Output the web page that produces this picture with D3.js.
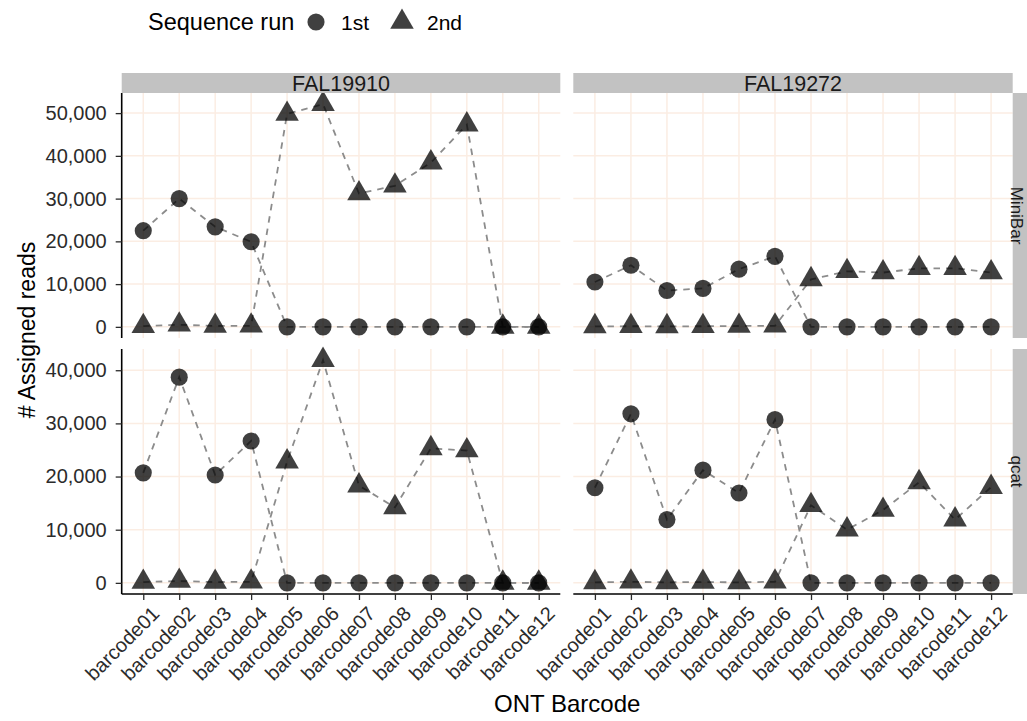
<!DOCTYPE html>
<html>
<head>
<meta charset="utf-8">
<script src="https://cdn.jsdelivr.net/npm/d3@7"></script>
<style>
  html, body { margin: 0; padding: 0; background: #fff; }
  svg { display: block; font-family: "Liberation Sans", Arial, sans-serif; }
</style>
</head>
<body>
<svg id="chart" width="1027" height="721"></svg>
<script>
// ---------------- data ----------------
const barcodes = ["barcode01","barcode02","barcode03","barcode04","barcode05","barcode06",
                  "barcode07","barcode08","barcode09","barcode10","barcode11","barcode12"];
const flowcells = ["FAL19910", "FAL19272"];
const tools = ["MiniBar", "qcat"];
const runs = ["1st", "2nd"];

// MiniBar
const miniBar_FAL19910_1st = [22500, 30000, 23400, 19900, 0, 0, 0, 0, 0, 0, 0, 0];
const miniBar_FAL19910_2nd = [150, 500, 200, 250, 49800, 52100, 31200, 33000, 38400, 47300, 0, 0];
const miniBar_FAL19272_1st = [10500, 14400, 8500, 9000, 13500, 16500, 0, 0, 0, 0, 0, 0];
const miniBar_FAL19272_2nd = [100, 150, 100, 150, 200, 250, 11100, 13000, 12700, 13700, 13700, 12700];
// qcat
const qcat_FAL19910_1st = [20700, 38700, 20300, 26700, 0, 0, 0, 0, 0, 0, 0, 0];
const qcat_FAL19910_2nd = [150, 350, 150, 200, 22800, 41900, 18300, 14200, 25300, 24900, 0, 0];
const qcat_FAL19272_1st = [17900, 31800, 11900, 21200, 16900, 30700, 0, 0, 0, 0, 0, 0];
const qcat_FAL19272_2nd = [100, 200, 100, 150, 100, 200, 14600, 10000, 13700, 18900, 11900, 18000];

const yTicksMiniBar = [0, 10000, 20000, 30000, 40000, 50000];
const yTicksQcat = [0, 10000, 20000, 30000, 40000];

const seriesTable = {
  "MiniBar": {
    "FAL19910": { "1st": miniBar_FAL19910_1st, "2nd": miniBar_FAL19910_2nd },
    "FAL19272": { "1st": miniBar_FAL19272_1st, "2nd": miniBar_FAL19272_2nd }
  },
  "qcat": {
    "FAL19910": { "1st": qcat_FAL19910_1st, "2nd": qcat_FAL19910_2nd },
    "FAL19272": { "1st": qcat_FAL19272_1st, "2nd": qcat_FAL19272_2nd }
  }
};
const yTicksByTool = { "MiniBar": yTicksMiniBar, "qcat": yTicksQcat };

// ---------------- layout ----------------
const svg = d3.select("#chart");
const colX = [[121.7, 560.3], [573.3, 1012.7]];
const rowY = [[93, 338], [349, 594]];
const stripH = 20;
const stripW = 21;

const pointColor = "#000";
const pointAlpha = 0.75;
const lineColor = "#8c8c8c";
const gridColor = "#fbede3";
const textColor = "#2b2b2b";
const fmt = d3.format(",");

const shapeFor = {
  "1st": d3.symbol().type(d3.symbolCircle).size(230),
  "2nd": d3.symbol().type(d3.symbolTriangle).size(240)
};

tools.forEach((tool, ri) => {
  // free y per row
  const allVals = [];
  flowcells.forEach(fc => runs.forEach(r => allVals.push(...seriesTable[tool][fc][r])));
  const lo = d3.min(allVals), hi = d3.max(allVals);
  const pad = (hi - lo) * 0.05;
  const [y0, y1] = rowY[ri];
  const y = d3.scaleLinear().domain([lo - pad, hi + pad]).range([y1, y0]);
  const ticks = yTicksByTool[tool];

  flowcells.forEach((fc, ci) => {
    const [x0, x1] = colX[ci];
    const x = d3.scalePoint().domain(barcodes).range([x0, x1]).padding(0.6);
    const g = svg.append("g");

    // grid
    g.selectAll(".hg").data(ticks).join("line")
      .attr("x1", x0).attr("x2", x1)
      .attr("y1", d => y(d)).attr("y2", d => y(d))
      .attr("stroke", gridColor).attr("stroke-width", 1.5);
    g.selectAll(".vg").data(barcodes).join("line")
      .attr("x1", d => x(d)).attr("x2", d => x(d))
      .attr("y1", y0).attr("y2", y1)
      .attr("stroke", gridColor).attr("stroke-width", 1.5);

    // lines
    runs.forEach(r => {
      const vals = seriesTable[tool][fc][r];
      const line = d3.line().x((d, i) => x(barcodes[i])).y(d => y(d));
      g.append("path").datum(vals)
        .attr("d", line)
        .attr("fill", "none")
        .attr("stroke", lineColor)
        .attr("stroke-width", 1.8)
        .attr("stroke-dasharray", "6.5,6");
    });
    // points
    runs.forEach(r => {
      const vals = seriesTable[tool][fc][r];
      g.selectAll(null).data(vals).join("path")
        .attr("d", shapeFor[r])
        .attr("transform", (d, i) => `translate(${x(barcodes[i])},${y(d)})`)
        .attr("fill", pointColor)
        .attr("fill-opacity", pointAlpha);
    });

    // top strips
    if (ri === 0) {
      svg.append("rect").attr("x", x0).attr("y", y0 - stripH)
        .attr("width", x1 - x0).attr("height", stripH).attr("fill", "#c2c2c2");
      svg.append("text").attr("x", (x0 + x1) / 2).attr("y", y0 - stripH / 2)
        .attr("dy", "0.36em").attr("text-anchor", "middle")
        .attr("font-size", 21.5).attr("fill", "#1a1a1a").text(fc);
    }
    // right strips
    if (ci === 1) {
      svg.append("rect").attr("x", x1).attr("y", y0)
        .attr("width", stripW).attr("height", y1 - y0).attr("fill", "#c2c2c2");
      svg.append("text")
        .attr("transform", `translate(${x1 + 4.9},${(y0 + y1) / 2}) rotate(90)`)
        .attr("dy", "0.36em").attr("text-anchor", "middle")
        .attr("font-size", 17).attr("fill", "#1a1a1a").text(tool);
    }
    // y axis (left column only)
    if (ci === 0) {
      const ax = svg.append("g").attr("transform", `translate(${x0},0)`)
        .call(d3.axisLeft(y).tickValues(ticks).tickFormat(fmt).tickSize(6).tickPadding(9));
      ax.select(".domain").attr("d", `M0,${y0}V${y1}`).attr("stroke", "#000").attr("stroke-width", 1.6);
      ax.selectAll(".tick line").attr("stroke", textColor).attr("stroke-width", 1.3);
      ax.selectAll(".tick text").attr("font-size", 20).attr("fill", textColor)
        .attr("font-family", "Liberation Sans, Arial, sans-serif");
    }
    // x axis (bottom row only)
    if (ri === 1) {
      const ax = svg.append("g").attr("transform", `translate(0,${y1})`)
        .call(d3.axisBottom(x).tickSize(6));
      ax.select(".domain").attr("d", `M${x0},0H${x1}`).attr("stroke", "#000").attr("stroke-width", 1.6);
      ax.selectAll(".tick line").attr("stroke", textColor).attr("stroke-width", 1.3);
      ax.selectAll(".tick text")
        .attr("font-size", 20).attr("fill", textColor)
        .attr("font-family", "Liberation Sans, Arial, sans-serif")
        .attr("text-anchor", "end")
        .attr("x", 0).attr("y", 0).attr("dy", "0.7em")
        .attr("transform", "translate(7,11) rotate(-45)");
    }
  });
});

// axis titles
svg.append("text").attr("x", (colX[0][0] + colX[1][1]) / 2).attr("y", 712)
  .attr("text-anchor", "middle").attr("font-size", 24).attr("fill", "#000").text("ONT Barcode");
svg.append("text").attr("transform", `translate(35,330) rotate(-90)`)
  .attr("text-anchor", "middle").attr("font-size", 23).attr("fill", "#000").text("# Assigned reads");

// legend
const lg = svg.append("g");
lg.append("text").attr("x", 148).attr("y", 22).attr("dy", "0.36em")
  .attr("font-size", 23.5).attr("fill", "#000").text("Sequence run");
const legendItems = [
  { run: runs[0], sx: 316, tx: 341 },
  { run: runs[1], sx: 402, tx: 427 }
];
legendItems.forEach(it => {
  lg.append("path").attr("d", shapeFor[it.run])
    .attr("transform", `translate(${it.sx},22)`)
    .attr("fill", pointColor).attr("fill-opacity", pointAlpha);
  lg.append("text").attr("x", it.tx).attr("y", 22).attr("dy", "0.36em")
    .attr("font-size", 21).attr("fill", "#000").text(it.run);
});
</script>
</body>
</html>
